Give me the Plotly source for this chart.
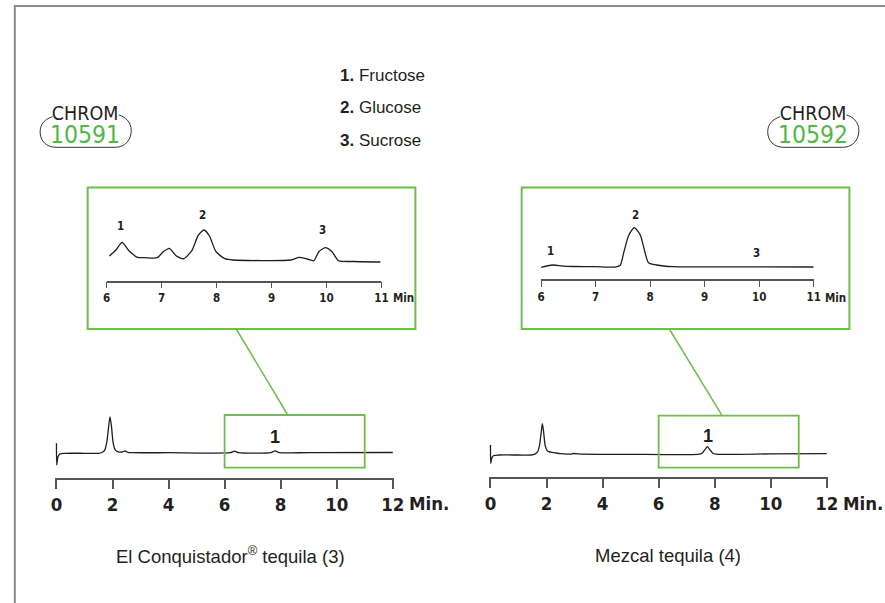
import plotly.graph_objects as go

W, H = 885, 603

# ---------------- data ----------------
# Main chromatogram, El Conquistador tequila (3): time (min) vs detector response (a.u.)
t_main_l = [0.0, 0.01, 0.05, 0.12, 0.3, 1.0, 1.5, 1.62, 1.72, 1.8, 1.86, 1.91, 1.96, 2.02, 2.1,
            2.2, 2.35, 2.45, 2.55, 2.7, 4.0, 6.2, 6.35, 6.5, 7.65, 7.8, 7.95, 9.0, 12.0]
y_main_l = [35.0, 13.3, 21.0, 24.3, 25.0, 25.0, 25.0, 25.8, 28.0, 37.0, 51.0, 61.5, 53.0, 36.0, 28.5,
            26.5, 26.3, 27.3, 26.0, 25.6, 25.6, 25.6, 27.2, 25.6, 25.6, 27.5, 25.6, 25.7, 25.8]

# Main chromatogram, Mezcal tequila (4)
t_main_r = [0.0, 0.01, 0.05, 0.12, 0.3, 1.0, 1.45, 1.58, 1.68, 1.75, 1.81, 1.85, 1.89, 1.95, 2.03,
            2.15, 2.3, 2.5, 2.75, 2.88, 2.95, 3.3, 5.0, 7.4, 7.55, 7.66, 7.74, 7.82, 7.93, 8.05, 10.0, 12.0]
y_main_r = [32.3, 14.0, 19.5, 21.8, 22.3, 22.3, 22.3, 23.2, 25.5, 32.0, 45.0, 53.7, 47.0, 32.0, 26.3,
            25.2, 24.5, 23.6, 23.2, 23.2, 23.8, 23.2, 23.0, 23.0, 24.0, 28.0, 30.6, 28.0, 24.0, 23.1, 23.4, 23.6]

# Zoomed inset 6-11 min, El Conquistador
t_ins_l = [6.05, 6.17, 6.28, 6.41, 6.56, 6.7, 6.92, 7.03, 7.14, 7.27, 7.4, 7.55, 7.67, 7.77, 7.87,
           7.99, 8.15, 8.3, 9.35, 9.5, 9.65, 9.77, 9.86, 9.98, 10.1, 10.22, 10.5, 10.98]
y_ins_l = [24.5, 30.5, 38.2, 29.5, 23.2, 22.8, 22.8, 28.8, 32.2, 24.5, 21.8, 29.8, 45.5, 50.5, 44.5,
           28.8, 21.8, 20.5, 20.5, 23.2, 21.5, 19.8, 28.8, 32.8, 28.8, 19.8, 19.0, 18.5]

# Zoomed inset 6-11 min, Mezcal
t_ins_r = [6.0, 6.1, 6.23, 6.4, 6.6, 7.0, 7.35, 7.45, 7.52, 7.61, 7.71, 7.82, 7.91, 7.97, 8.12, 8.42, 9.5, 11.0]
y_ins_r = [12.0, 13.3, 14.3, 13.2, 12.8, 12.6, 12.2, 14.0, 27.6, 44.3, 51.6, 44.3, 26.0, 16.6, 14.3, 12.6, 12.4, 12.3]

main_ticks = [0, 2, 4, 6, 8, 10, 12]
main_ticktext = ["0", "2", "4", "6", "8", "10", "12"]
inset_ticks = [6, 7, 8, 9, 10, 11]
inset_ticktext = ["6", "7", "8", "9", "10", "11"]

peak_names = ["Fructose", "Glucose", "Sucrose"]
peak_ids = ["1", "2", "3"]
# label positions (time, response) of the peak numbers in the insets
ins_l_lab_t = [6.26, 7.75, 9.93]
ins_l_lab_y = [54.5, 66.0, 51.0]
ins_r_lab_t = [6.17, 7.73, 9.95]
ins_r_lab_y = [28.6, 64.3, 26.0]

sample_titles = ["El Conquistador<sup>®</sup> tequila (3)", "Mezcal tequila (4)"]
chrom_ids = ["10591", "10592"]
zoom_window = [6, 11]

# ---------------- helpers ----------------
def X(px):
    return px / W

def Y(py):
    return 1 - py / H

GREEN = "#6dbe4b"
NUMGREEN = "#52b947"
INK = "#231f20"
AX = "#555555"
COND = "DejaVu Sans, sans-serif"
SANS = "Liberation Sans, Arial, Helvetica, sans-serif"

def cond(txt, extra=""):
    return f"<span style='font-stretch:condensed;{extra}'>{txt}</span>"

def cfont(size, color=INK, bold=False):
    d = dict(family=COND, size=size, color=color)
    if bold:
        d["weight"] = "bold"
    return d

fig = go.Figure()
line = dict(color="#1e1e1e", width=1.3, shape="spline", smoothing=0.6)
fig.add_trace(go.Scatter(x=t_main_l, y=y_main_l, mode="lines", line=line, xaxis="x", yaxis="y", hoverinfo="skip"))
fig.add_trace(go.Scatter(x=t_main_r, y=y_main_r, mode="lines", line=line, xaxis="x2", yaxis="y2", hoverinfo="skip"))
fig.add_trace(go.Scatter(x=t_ins_l, y=y_ins_l, mode="lines", line=line, xaxis="x3", yaxis="y3", hoverinfo="skip"))
fig.add_trace(go.Scatter(x=t_ins_r, y=y_ins_r, mode="lines", line=line, xaxis="x4", yaxis="y4", hoverinfo="skip"))

ppm = (395 - 53.3) / 12.0  # px per minute on main axes
pad = 0.06

def main_x(anchor, x0px):
    return dict(domain=[X(x0px - pad * ppm), X(x0px + 12 * ppm + pad * ppm)], range=[-pad, 12 + pad],
                anchor=anchor, showline=True, linecolor=AX, linewidth=2, ticks="outside", ticklen=9,
                tickwidth=1.5, tickcolor=AX, tickvals=main_ticks, ticktext=[cond(t) for t in main_ticktext],
                tickfont=cfont(18.5, bold=True),
                ticklabelstandoff=-1, showgrid=False, zeroline=False, fixedrange=True)

def inset_x(anchor, x0px, x1px):
    return dict(domain=[X(x0px), X(x1px)], range=[6, 11], anchor=anchor, showline=True, linecolor=AX,
                linewidth=1.8, ticks="outside", ticklen=6, tickwidth=1.3, tickcolor=AX,
                tickvals=inset_ticks, ticktext=[cond(t) for t in inset_ticktext],
                tickfont=cfont(11.5, bold=True),
                ticklabelstandoff=0, showgrid=False, zeroline=False, fixedrange=True)

def yax(anchor, bottom_px, span_px, rng):
    return dict(domain=[Y(bottom_px), Y(bottom_px - span_px)], range=rng, anchor=anchor, visible=False,
                showgrid=False, zeroline=False, fixedrange=True)

fig.update_layout(
    width=W, height=H, margin=dict(l=0, r=0, t=0, b=0), paper_bgcolor="white", plot_bgcolor="rgba(0,0,0,0)",
    showlegend=False,
    xaxis=main_x("y", 53.3), yaxis=yax("x", 478.3, 70, [0, 70]),
    xaxis2=main_x("y2", 494.3), yaxis2=yax("x2", 477.3, 70, [0, 70]),
    xaxis3=inset_x("y3", 104.3, 383.5), yaxis3=yax("x3", 280.5, 75, [0, 75]),
    xaxis4=inset_x("y4", 545.7, 822.7), yaxis4=yax("x4", 279.3, 75, [0, 75]),
)

shapes = []
# outer frame
shapes.append(dict(type="rect", xref="paper", yref="paper", x0=X(11), x1=X(905), y0=Y(620), y1=Y(6),
                   line=dict(color="#8c8c8c", width=2)))
# inset boxes
for x0, x1 in [(85, 418), (526, 859)]:
    shapes.append(dict(type="rect", xref="paper", yref="paper", x0=X(x0), x1=X(x1), y0=Y(329), y1=Y(187.5),
                       line=dict(color=GREEN, width=2)))
# zoom window boxes on main chromatograms
for xr, yt, yb in [("x", 415, 467.7), ("x2", 415.7, 467.7)]:
    shapes.append(dict(type="rect", xref=xr, yref="paper", x0=zoom_window[0], x1=zoom_window[1],
                       y0=Y(yb), y1=Y(yt), line=dict(color=GREEN, width=1.8)))
# connector lines
for (xa, xb), yb in [((236, 288.3), 415), ((676, 729.7), 415.7)]:
    shapes.append(dict(type="line", xref="paper", yref="paper", x0=X(xa), y0=Y(329), x1=X(xb), y1=Y(yb),
                       line=dict(color=GREEN, width=1.5)))

# badge outlines
def badge_path(dx):
    pts = [("M", [(49.3, 116.7)]),
           ("C", [(42, 119), (36.7, 124), (36.7, 131.7)]),
           ("C", [(36.7, 141), (43, 147.3), (53, 147.3)]),
           ("L", [(113, 147.3)]),
           ("C", [(123, 147.3), (129.3, 140), (129.3, 130.5)]),
           ("C", [(129.3, 122), (123, 116.5), (116.7, 115)])]
    s = ""
    for cmd, ps in pts:
        s += cmd + " " + " ".join(f"{X(px + dx):.5f},{Y(py):.5f}" for px, py in ps) + " "
    return s.strip()

for dx in [0, 739.3]:
    shapes.append(dict(type="path", xref="paper", yref="paper", path=badge_path(dx),
                       line=dict(color="#333333", width=1)))

fig.update_layout(shapes=shapes)

ann = []
# legend of peaks
for i, (pid, name) in enumerate(zip(peak_ids, peak_names)):
    ann.append(dict(xref="paper", yref="paper", x=X(339), y=Y(75 + 32.7 * i), xanchor="left", yanchor="middle",
                    text=f"<b>{pid}.</b> {name}", showarrow=False,
                    font=dict(family=SANS, size=17, color=INK)))
# CHROM badges (one text block each: CHROM over the green number)
for cx, cid in zip([82.5, 822], chrom_ids):
    ann.append(dict(xref="paper", yref="paper", x=X(cx), y=Y(125.5), xanchor="center", yanchor="middle",
                    text=cond("CHROM", "font-size:19.5px") + "<br>" +
                         cond(cid, f"font-size:24.5px;fill:{NUMGREEN}"),
                    showarrow=False, align="center", font=cfont(18)))
# inset peak numbers
for xr, yr, ts, ys in [("x3", "y3", ins_l_lab_t, ins_l_lab_y), ("x4", "y4", ins_r_lab_t, ins_r_lab_y)]:
    for pid, t, v in zip(peak_ids, ts, ys):
        ann.append(dict(xref=xr, yref=yr, x=t, y=v, text=cond(pid), showarrow=False, xanchor="center",
                        yanchor="middle", font=cfont(11.5, bold=True)))
# main peak number "1"
for xr, yr, t, v in [("x", "y", 7.79, 41.6), ("x2", "y2", 7.77, 41.3)]:
    ann.append(dict(xref=xr, yref=yr, x=t, y=v, text="1", showarrow=False, xanchor="center", yanchor="middle",
                    font=dict(family=SANS, size=18, color=INK, weight="bold")))
# axis unit labels
for xr in ["x", "x2"]:
    ann.append(dict(xref=xr, yref="paper", x=12, y=Y(503.5), xshift=14, xanchor="left", yanchor="middle",
                    text=cond("Min."), showarrow=False, font=cfont(18.5, bold=True)))
for xr in ["x3", "x4"]:
    ann.append(dict(xref=xr, yref="paper", x=11, y=Y(297.5), xshift=9.5, xanchor="left", yanchor="middle",
                    text=cond("Min"), showarrow=False, font=cfont(11.5, bold=True)))
# sample titles
for cx, txt in zip([230, 674.5], sample_titles):
    ann.append(dict(xref="paper", yref="paper", x=X(cx), y=Y(555), xanchor="center", yanchor="middle",
                    text=txt, showarrow=False, font=dict(family=SANS, size=18.5, color=INK)))

fig.update_layout(annotations=ann)
fig.write_html("out.html")
